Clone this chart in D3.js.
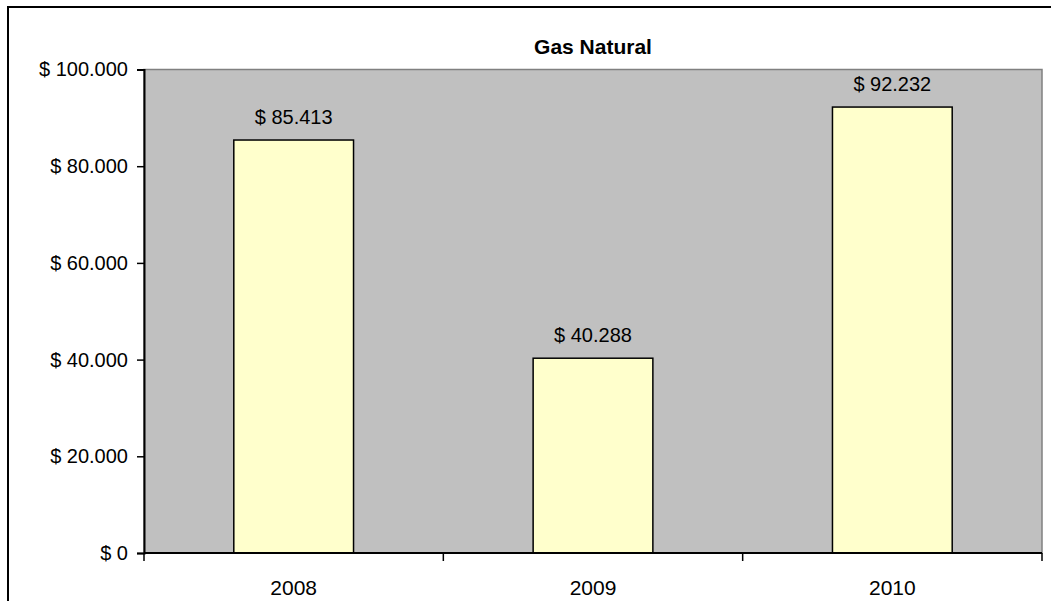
<!DOCTYPE html>
<html>
<head>
<meta charset="utf-8">
<script src="https://cdn.jsdelivr.net/npm/d3@7"></script>
<style>
  body { margin: 0; background: #fff; }
  text { font-family: "Liberation Sans", Arial, sans-serif; fill: #000; }
</style>
</head>
<body>
<div id="chart"></div>
<script>
// data
const years = ['2008', '2009', '2010'];
const values = [85413, 40288, 92232];
const yTicks = [0, 20000, 40000, 60000, 80000, 100000];
const title = 'Gas Natural';

const width = 1051, height = 601;
const plot = { left: 144, top: 69.5, right: 1042, bottom: 553 };

const locale = d3.formatLocale({ decimal: ',', thousands: '.', grouping: [3], currency: ['$ ', ''] });
const money = locale.format('$,.0f');

const svg = d3.select('#chart').append('svg')
  .attr('width', width)
  .attr('height', height);

// chart border (runs off the right and bottom edges)
svg.append('rect')
  .attr('x', 8).attr('y', 7)
  .attr('width', width + 20).attr('height', height + 20)
  .attr('fill', '#fff')
  .attr('stroke', '#000')
  .attr('stroke-width', 2);

const x = d3.scaleBand()
  .domain(years)
  .range([plot.left, plot.right])
  .paddingInner(0.6)
  .paddingOuter(0.3);

const y = d3.scaleLinear()
  .domain([0, 100000])
  .range([plot.bottom, plot.top]);

// plot area
svg.append('rect')
  .attr('x', plot.left).attr('y', plot.top)
  .attr('width', plot.right - plot.left)
  .attr('height', plot.bottom - plot.top)
  .attr('fill', '#c0c0c0')
  .attr('stroke', '#808080')
  .attr('stroke-width', 1.5);

// bars
svg.selectAll('.bar')
  .data(values)
  .join('rect')
  .attr('class', 'bar')
  .attr('x', (d, i) => x(years[i]))
  .attr('y', d => y(d))
  .attr('width', x.bandwidth())
  .attr('height', d => y(0) - y(d))
  .attr('fill', '#ffffcc')
  .attr('stroke', '#000')
  .attr('stroke-width', 1.5);

// value labels
svg.selectAll('.val')
  .data(values)
  .join('text')
  .attr('class', 'val')
  .attr('x', (d, i) => x(years[i]) + x.bandwidth() / 2)
  .attr('y', d => y(d) - 16)
  .attr('text-anchor', 'middle')
  .style('font-size', '20px')
  .text(d => money(d));

// y axis
const axisY = svg.append('g')
  .attr('transform', `translate(${plot.left},0)`)
  .call(d3.axisLeft(y).tickValues(yTicks).tickSize(7).tickPadding(9).tickFormat(money));
axisY.select('.domain').attr('stroke', '#000').attr('stroke-width', 2);
axisY.selectAll('.tick line').attr('stroke', '#000').attr('stroke-width', 1.5);
axisY.selectAll('.tick text')
  .style('font-size', '20px')
  .style('font-family', '"Liberation Sans", Arial, sans-serif');

// x axis: tick marks between categories, labels at band centres
const boundaries = d3.range(years.length + 1).map(i => plot.left + i * (plot.right - plot.left) / years.length);
const axisX = svg.append('g');
axisX.append('line')
  .attr('x1', plot.left).attr('x2', plot.right)
  .attr('y1', plot.bottom).attr('y2', plot.bottom)
  .attr('stroke', '#000').attr('stroke-width', 2);
axisX.selectAll('.xtick')
  .data(boundaries)
  .join('line')
  .attr('class', 'xtick')
  .attr('x1', d => d).attr('x2', d => d)
  .attr('y1', plot.bottom).attr('y2', plot.bottom + 8)
  .attr('stroke', '#000').attr('stroke-width', 1.5);
axisX.selectAll('.xlab')
  .data(years)
  .join('text')
  .attr('class', 'xlab')
  .attr('x', d => x(d) + x.bandwidth() / 2)
  .attr('y', 595)
  .attr('text-anchor', 'middle')
  .style('font-size', '21px')
  .text(d => d);

// title
svg.append('text')
  .attr('x', (plot.left + plot.right) / 2)
  .attr('y', 54)
  .attr('text-anchor', 'middle')
  .style('font-size', '21px')
  .style('font-weight', 'bold')
  .text(title);
</script>
</body>
</html>
